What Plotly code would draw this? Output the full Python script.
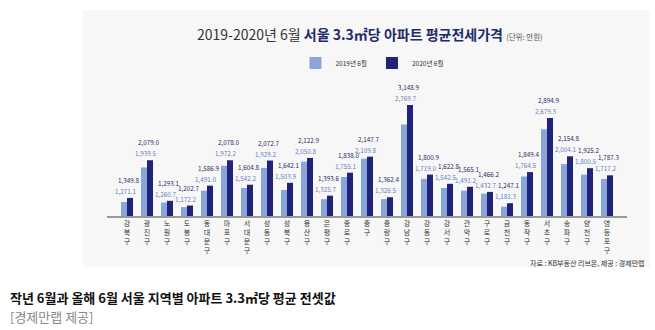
import plotly.graph_objects as go

districts = ["강북구", "광진구", "노원구", "도봉구", "동대문구", "마포구", "서대문구", "성동구", "성북구",
             "용산구", "은평구", "종로구", "중구", "중랑구", "강남구", "강동구", "강서구", "관악구",
             "구로구", "금천구", "동작구", "서초구", "송파구", "양천구", "영등포구"]
jun2019 = [1271.1, 1939.5, 1260.7, 1172.2, 1491.0, 1972.2, 1542.2, 1929.2, 1503.9,
           2050.8, 1325.7, 1755.1, 2109.8, 1326.5, 2769.7, 1719.0, 1542.5, 1491.2,
           1432.7, 1181.3, 1764.5, 2679.3, 2004.1, 1800.5, 1717.2]
jun2020 = [1349.8, 2079.0, 1293.1, 1202.7, 1586.9, 2078.0, 1604.8, 2072.7, 1642.1,
           2122.9, 1393.6, 1838.0, 2147.7, 1362.4, 3148.9, 1800.9, 1622.8, 1565.1,
           1466.2, 1247.1, 1849.4, 2894.9, 2154.8, 1925.2, 1787.3]
series_names = ["2019년 6월", "2020년 6월"]

LIGHT = "#8aa6d9"
DARK = "#1f2479"
BG = "#f7f7f7"
FONT = "Noto Sans CJK KR"

L, R, T, B = 107, 28, 82, 114
W, H = 655, 330
pw, ph = W - L - R, H - T - B

def px(x):
    return (x - L) / pw

def py(y):
    return (H - B - y) / ph

x = list(range(len(districts)))
fig = go.Figure()
fig.add_bar(x=x, y=jun2019, name=series_names[0], marker_color=LIGHT, marker_line_width=0)
fig.add_bar(x=x, y=jun2020, name=series_names[1], marker_color=DARK, marker_line_width=0)

ann = []
for i, (a, b) in enumerate(zip(jun2019, jun2020)):
    top = max(a, b)
    ann.append(dict(x=i, y=top, xref="x", yref="y", text=f"{a:,.1f}", showarrow=False,
                    yanchor="bottom", yshift=0, xshift=-2,
                    font=dict(family=FONT, size=6.3, color="#6482bd")))
    ann.append(dict(x=i, y=top, xref="x", yref="y", text=f"{b:,.1f}", showarrow=False,
                    yanchor="bottom", yshift=11, xshift=1,
                    font=dict(family=FONT, size=6.3, color="#1f2a5e")))

ann.append(dict(x=px(195), y=py(34), xref="paper", yref="paper", xanchor="left", yanchor="middle",
                showarrow=False,
                text="2019-2020년 6월 <b><span style='color:#1f2a6b'>서울 3.3㎡당 아파트 평균전세가격</span></b>"
                     " <span style='font-size:7.5px;color:#555'>(단위: 만원)</span>",
                font=dict(family=FONT, size=14, color="#333")))
ann.append(dict(x=px(647), y=py(263), xref="paper", yref="paper", xanchor="right", yanchor="middle",
                showarrow=False, text="자료 : KB부동산 리브온, 제공 : 경제만랩",
                font=dict(family=FONT, size=7, color="#333")))
ann.append(dict(x=px(8), y=py(297), xref="paper", yref="paper", xanchor="left", yanchor="middle",
                showarrow=False, text="<b>작년 6월과 올해 6월 서울 지역별 아파트 3.3㎡당 평균 전셋값</b>",
                font=dict(family=FONT, size=13, color="#111")))
ann.append(dict(x=px(8), y=py(316), xref="paper", yref="paper", xanchor="left", yanchor="middle",
                showarrow=False, text="[경제만랩 제공]",
                font=dict(family=FONT, size=13, color="#888")))

fig.update_layout(
    width=W, height=H,
    margin=dict(l=L, r=R, t=T, b=B),
    paper_bgcolor="white", plot_bgcolor=BG,
    barmode="group", bargap=0.4, bargroupgap=0,
    showlegend=True,
    legend=dict(orientation="h", x=px(372), xanchor="center", y=py(63), yanchor="middle",
                font=dict(family=FONT, size=6.5, color="#333"), bgcolor="rgba(0,0,0,0)",
                itemwidth=30, tracegroupgap=0),
    annotations=ann,
    shapes=[dict(type="rect", xref="paper", yref="paper", x0=px(83), x1=px(650), y0=py(267), y1=py(10),
                 fillcolor=BG, line_width=0, layer="below")],
    xaxis=dict(range=[-1, len(districts)], tickmode="array", tickvals=x,
               ticktext=["<br>".join(list(d)) for d in districts],
               showline=True, linecolor="#999", linewidth=1.5, ticks="", showgrid=False,
               zeroline=False, tickfont=dict(family=FONT, size=7, color="#333"), fixedrange=True),
    yaxis=dict(range=[1000, 1000 + ph / 0.0517], visible=False, showgrid=False, fixedrange=True),
)

fig.write_html("out.html")
